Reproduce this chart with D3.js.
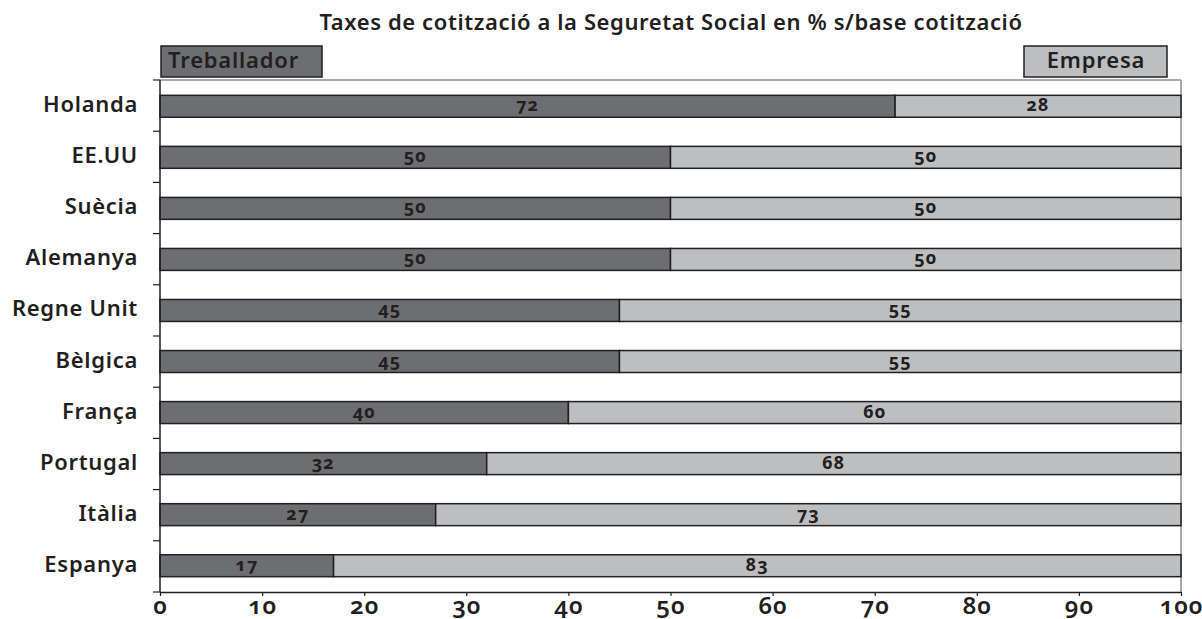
<!DOCTYPE html>
<html><head><meta charset="utf-8">
<script src="https://cdn.jsdelivr.net/npm/d3@7"></script>
<style>
body{margin:0;background:#fff;}
text{font-family:"Noto Sans","Open Sans",sans-serif;fill:#231f20;}
.num{font-variant-numeric:oldstyle-nums;font-feature-settings:"onum" 1;}
</style></head>
<body><svg id="c" width="1202" height="619"></svg>
<script>
const categories=["Holanda","EE.UU","Suècia","Alemanya","Regne Unit","Bèlgica","França","Portugal","Itàlia","Espanya"];
const treballador=[72,50,50,50,45,45,40,32,27,17];
const empresa=[28,50,50,50,55,55,60,68,73,83];
const xTicks=[0,10,20,30,40,50,60,70,80,90,100];
const seriesNames=["Treballador","Empresa"];
const title="Taxes de cotització a la Seguretat Social en % s/base cotització";

const svg=d3.select("#c");
const L=160,R=1181,T=80,B=592;
const x=d3.scaleLinear().domain([0,100]).range([L,R]);
const y=d3.scaleBand().domain(categories).range([T,B]).paddingInner(0.57).paddingOuter(0.3);
const yb=d3.scaleBand().domain(categories).range([T,B]);
const dark="#6d6e71",light="#bcbec0",stroke="#231f20";
const W=600;

svg.append("text").attr("x",671).attr("y",30).attr("text-anchor","middle")
  .attr("font-size",22).attr("letter-spacing",0.6).attr("font-weight",W).text(title);

// frame top/right
svg.append("line").attr("x1",L).attr("x2",R).attr("y1",T).attr("y2",T).attr("stroke","#a7a9ac").attr("stroke-width",2);
svg.append("line").attr("x1",R).attr("x2",R).attr("y1",T).attr("y2",B).attr("stroke","#a7a9ac").attr("stroke-width",2);

// legend
const leg=[{n:seriesNames[0],x0:161,x1:322,f:dark,tx:168,a:"start"},{n:seriesNames[1],x0:1024,x1:1167,f:light,tx:1096,a:"middle"}];
leg.forEach(d=>{
  svg.append("rect").attr("x",d.x0).attr("y",46).attr("width",d.x1-d.x0).attr("height",31)
    .attr("fill",d.f).attr("stroke",stroke).attr("stroke-width",1.5);
  svg.append("text").attr("x",d.tx).attr("y",68).attr("text-anchor",d.a)
    .attr("font-size",22).attr("letter-spacing",0.8).attr("font-weight",W).text(d.n);
});

const g=svg.append("g");
categories.forEach((c,i)=>{
  const yy=y(c),h=y.bandwidth();
  g.append("rect").attr("x",x(0)).attr("y",yy).attr("width",x(treballador[i])-x(0)).attr("height",h)
    .attr("fill",dark).attr("stroke",stroke).attr("stroke-width",1.5);
  g.append("rect").attr("x",x(treballador[i])).attr("y",yy).attr("width",x(100)-x(treballador[i])).attr("height",h)
    .attr("fill",light).attr("stroke",stroke).attr("stroke-width",1.5);
  g.append("text").attr("class","num").attr("x",(x(0)+x(treballador[i]))/2).attr("y",yy+h/2+5)
    .attr("text-anchor","middle").attr("font-size",18).attr("letter-spacing",1).attr("font-weight","bold").text(treballador[i]);
  g.append("text").attr("class","num").attr("x",(x(treballador[i])+x(100))/2).attr("y",yy+h/2+5)
    .attr("text-anchor","middle").attr("font-size",18).attr("letter-spacing",1).attr("font-weight","bold").text(empresa[i]);
  g.append("text").attr("x",138).attr("y",yy+h/2+6).attr("text-anchor","end")
    .attr("font-size",22).attr("letter-spacing",0.7).attr("font-weight",W).text(c);
});

// left axis with ticks at band boundaries
svg.append("line").attr("x1",L).attr("x2",L).attr("y1",T).attr("y2",B).attr("stroke",stroke).attr("stroke-width",1.5);
categories.forEach(c=>{
  const yy=yb(c);
  svg.append("line").attr("x1",L-7).attr("x2",L).attr("y1",yy).attr("y2",yy).attr("stroke",stroke).attr("stroke-width",1.2);
});
svg.append("line").attr("x1",L-7).attr("x2",L).attr("y1",B).attr("y2",B).attr("stroke",stroke).attr("stroke-width",1.2);

// bottom axis
const ax=svg.append("g").attr("transform",`translate(0,${B})`)
  .call(d3.axisBottom(x).tickValues(xTicks).tickSize(4).tickSizeOuter(0));
ax.select(".domain").attr("stroke",stroke).attr("stroke-width",1.5);
ax.selectAll(".tick line").attr("stroke",stroke).attr("stroke-width",1.2);
ax.selectAll(".tick text").attr("class","num").attr("font-size",24).attr("letter-spacing",1).attr("font-weight",W)
  .attr("y",22).attr("dy",null)
  .attr("font-family",'"Noto Sans","Open Sans",sans-serif').attr("fill","#231f20");
</script></body></html>
